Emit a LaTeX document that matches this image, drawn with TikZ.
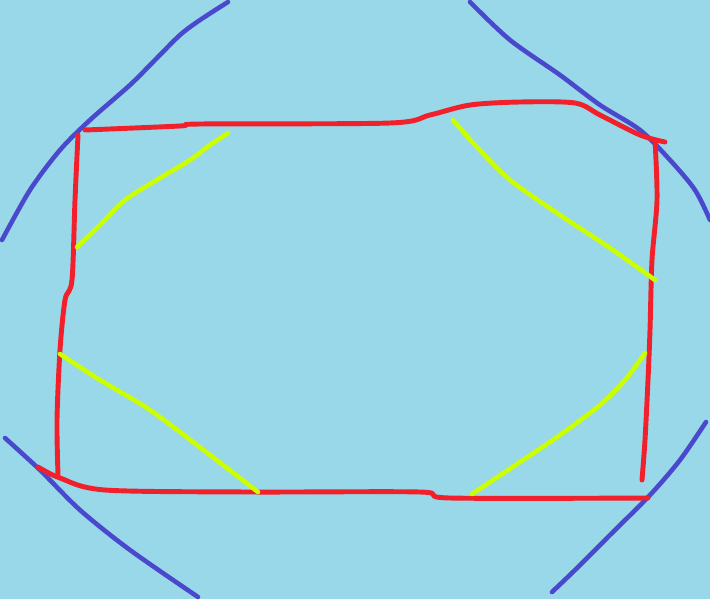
\documentclass[tikz,border=0pt]{standalone}
\usepackage{xcolor}
\usepackage{tikz}
\definecolor{skybg}{HTML}{98D8E8}
\definecolor{penred}{HTML}{F2202A}
\definecolor{penblue}{HTML}{4A48CC}
\definecolor{penlime}{HTML}{CCFF00}
\begin{document}
\begin{tikzpicture}[
    x=0.02cm, y=-0.02cm,
    redline/.style={draw=penred, line width=2.8pt, line cap=round, line join=round},
    blueline/.style={draw=penblue, line width=2.6pt, line cap=round, line join=round},
    limeline/.style={draw=penlime, line width=2.6pt, line cap=round, line join=round}
  ]
  % Hintergrund
  \fill[skybg] (0,0) rectangle (710,599);
  \useasboundingbox (0,0) rectangle (710,599);

  % Blaue Boegen an den Ecken
  \draw[blueline] plot[smooth] coordinates {(228,2) (200,20) (180,35) (155,60) (130,85) (90,120) (60,150) (30,190) (2,240)};
  \draw[blueline] plot[smooth] coordinates {(470,2) (510,40) (560,75) (600,105) (640,130) (670,160) (695,190) (710,220)};
  \draw[blueline] plot[smooth] coordinates {(5,438) (40,470) (80,510) (130,550) (198,597)};
  \draw[blueline] plot[smooth] coordinates {(706,422) (680,460) (650,495) (610,535) (575,570) (552,592)};

  % Rotes Rechteck
  \draw[redline] plot[smooth] coordinates {(85,130) (180,126) (200,124) (390,123) (430,115) (470,105) (520,102) (575,103) (600,115) (640,135) (665,142)};
  \draw[redline] plot[smooth] coordinates {(78,135) (75,200) (72,280) (65,300) (60,350) (57,420) (58,475)};
  \draw[redline] plot[smooth] coordinates {(38,467) (60,478) (105,490) (250,492) (420,492) (450,498) (648,498)};
  \draw[redline] plot[smooth] coordinates {(655,140) (657,200) (652,260) (650,330) (648,380) (645,440) (642,480)};

  % Gelbe Striche innen
  \draw[limeline] plot[smooth] coordinates {(228,133) (210,145) (190,160) (160,178) (125,200) (100,225) (77,247)};
  \draw[limeline] plot[smooth] coordinates {(453,120) (475,145) (510,180) (560,215) (610,248) (655,280)};
  \draw[limeline] plot[smooth] coordinates {(60,354) (100,380) (150,410) (210,455) (258,492)};
  \draw[limeline] plot[smooth] coordinates {(645,353) (625,380) (600,405) (560,435) (520,462) (472,494)};
\end{tikzpicture}
\end{document}
